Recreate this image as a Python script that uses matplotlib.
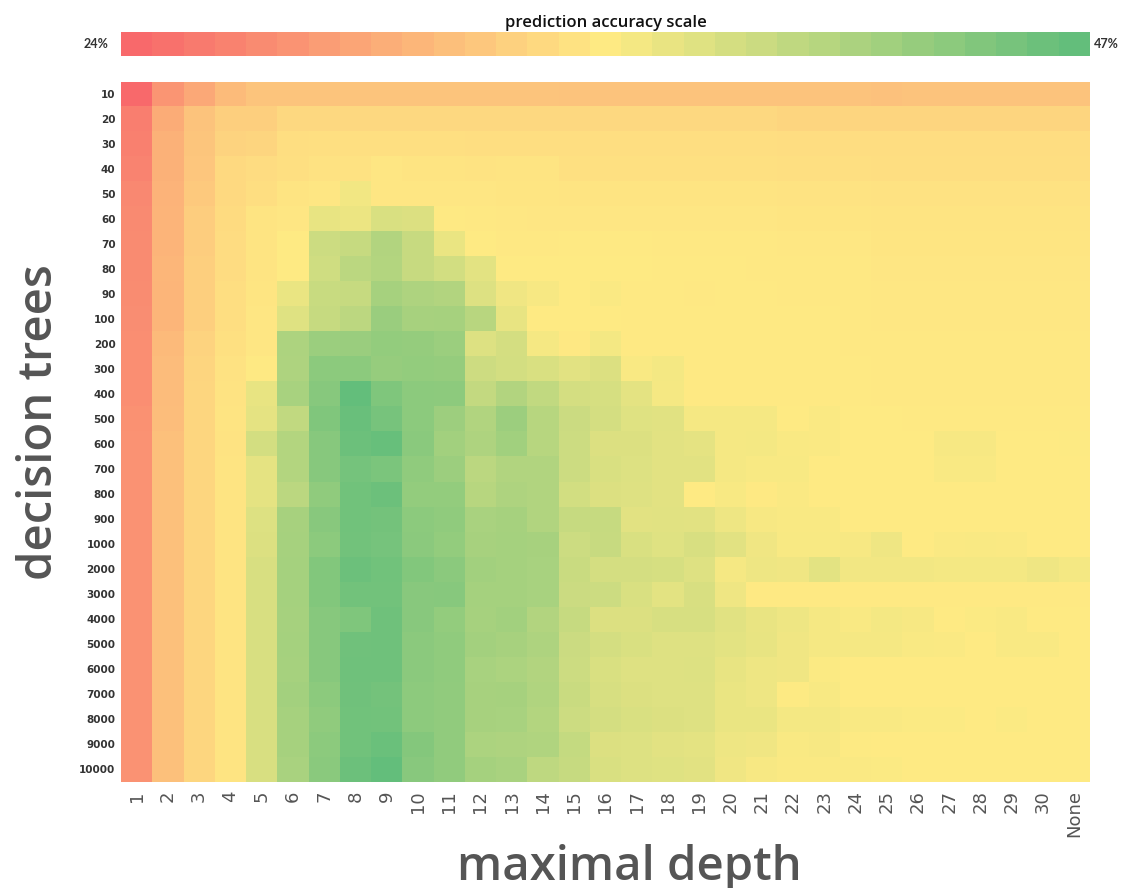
import numpy as np
import matplotlib.pyplot as plt
from matplotlib.colors import LinearSegmentedColormap, Normalize

trees = [10, 20, 30, 40, 50, 60, 70, 80, 90, 100,
         200, 300, 400, 500, 600, 700, 800, 900, 1000,
         2000, 3000, 4000, 5000, 6000, 7000, 8000, 9000, 10000]
depths = [str(d) for d in range(1, 31)] + ["None"]

# accuracy in %, one row per number of trees, one column per max depth (1..30, None)
accuracy = [
    [24.0, 28.0, 29.6, 31.3, 32.1, 32.1, 32.1, 32.1, 32.1, 32.1, 32.1, 32.1, 32.1, 32.1, 32.0, 32.0, 32.0, 32.0, 32.0, 32.0, 32.0, 32.0, 32.0, 32.0, 31.9, 32.0, 32.0, 32.0, 32.0, 32.0, 32.0],
    [25.9, 30.0, 32.0, 33.1, 33.1, 33.8, 33.8, 33.8, 33.8, 33.8, 33.8, 33.8, 33.8, 33.8, 33.8, 33.8, 33.8, 33.8, 33.8, 33.8, 33.8, 33.6, 33.6, 33.6, 33.6, 33.6, 33.6, 33.6, 33.6, 33.6, 33.6],
    [26.1, 30.4, 32.2, 33.4, 33.6, 34.4, 34.5, 34.5, 34.5, 34.5, 34.5, 34.4, 34.4, 34.4, 34.4, 34.4, 34.4, 34.4, 34.4, 34.4, 34.4, 34.3, 34.3, 34.3, 34.3, 34.3, 34.3, 34.3, 34.3, 34.3, 34.3],
    [26.4, 30.4, 32.3, 33.9, 34.2, 34.5, 34.7, 34.7, 35.1, 34.9, 34.9, 34.8, 34.9, 34.9, 34.6, 34.6, 34.6, 34.6, 34.6, 34.6, 34.6, 34.5, 34.5, 34.5, 34.4, 34.4, 34.4, 34.4, 34.4, 34.4, 34.4],
    [26.8, 30.6, 32.6, 33.9, 34.4, 34.9, 35.1, 36.4, 35.1, 35.1, 35.1, 35.1, 35.0, 35.0, 34.9, 34.9, 34.9, 34.9, 34.9, 34.9, 34.9, 34.8, 34.8, 34.8, 34.7, 34.7, 34.7, 34.7, 34.7, 34.7, 34.7],
    [27.0, 30.7, 32.9, 34.1, 34.9, 35.1, 37.2, 36.9, 38.2, 38.1, 35.4, 35.3, 35.2, 35.1, 35.1, 35.1, 35.1, 35.1, 35.1, 35.1, 35.1, 35.0, 35.0, 35.0, 34.9, 34.9, 34.9, 34.9, 34.9, 34.9, 34.9],
    [27.1, 30.7, 32.9, 34.2, 34.9, 35.5, 39.2, 39.7, 41.1, 39.6, 37.0, 35.5, 35.3, 35.3, 35.4, 35.4, 35.4, 35.3, 35.3, 35.3, 35.3, 35.2, 35.2, 35.2, 35.0, 35.0, 35.0, 35.0, 35.0, 35.0, 35.0],
    [27.1, 30.9, 33.1, 34.2, 34.9, 35.5, 39.0, 40.5, 41.0, 39.6, 38.8, 37.5, 35.5, 35.5, 35.5, 35.5, 35.5, 35.4, 35.4, 35.4, 35.3, 35.3, 35.3, 35.3, 35.1, 35.1, 35.1, 35.1, 35.1, 35.1, 35.1],
    [27.2, 30.8, 33.1, 34.4, 35.0, 37.0, 39.5, 39.7, 42.0, 41.4, 41.1, 38.0, 36.5, 36.1, 35.5, 35.8, 35.4, 35.4, 35.3, 35.4, 35.4, 35.3, 35.3, 35.3, 35.2, 35.2, 35.2, 35.2, 35.2, 35.2, 35.2],
    [27.3, 30.8, 33.1, 34.4, 35.1, 37.8, 39.7, 40.4, 42.9, 41.9, 42.0, 40.7, 37.2, 35.5, 35.5, 35.5, 35.4, 35.4, 35.4, 35.4, 35.4, 35.4, 35.4, 35.3, 35.2, 35.2, 35.2, 35.2, 35.2, 35.2, 35.2],
    [27.4, 31.2, 33.4, 34.6, 35.1, 41.5, 42.8, 42.9, 43.4, 43.3, 42.8, 38.0, 38.6, 36.2, 35.3, 36.3, 35.4, 35.4, 35.4, 35.4, 35.4, 35.4, 35.4, 35.3, 35.3, 35.3, 35.3, 35.3, 35.3, 35.3, 35.3],
    [27.4, 31.4, 33.6, 34.7, 35.4, 41.4, 43.9, 43.9, 43.2, 43.4, 43.3, 39.1, 38.7, 38.2, 37.6, 38.1, 35.9, 36.3, 35.4, 35.4, 35.4, 35.4, 35.4, 35.4, 35.3, 35.3, 35.3, 35.3, 35.3, 35.3, 35.3],
    [27.4, 31.4, 33.7, 34.8, 37.2, 41.8, 44.3, 47.0, 44.9, 43.9, 43.8, 39.9, 41.1, 40.0, 38.6, 38.5, 37.4, 36.2, 35.4, 35.4, 35.4, 35.4, 35.4, 35.4, 35.3, 35.3, 35.3, 35.3, 35.3, 35.3, 35.3],
    [27.6, 31.5, 33.7, 34.9, 37.3, 40.0, 44.8, 46.5, 45.4, 43.9, 42.6, 41.2, 42.7, 40.8, 39.3, 38.6, 37.8, 37.7, 36.2, 36.2, 36.2, 35.5, 35.8, 35.5, 35.5, 35.4, 35.4, 35.4, 35.4, 35.4, 35.4],
    [27.7, 31.8, 33.7, 34.8, 38.7, 41.0, 44.3, 46.2, 46.6, 44.1, 42.3, 41.4, 42.4, 40.8, 39.2, 38.1, 38.1, 37.6, 37.3, 36.2, 36.3, 35.9, 35.8, 35.5, 35.5, 35.5, 36.1, 36.1, 35.5, 35.5, 35.6],
    [27.7, 31.8, 33.7, 34.9, 37.3, 41.0, 44.3, 45.6, 45.2, 43.6, 42.7, 40.5, 41.2, 41.2, 39.2, 38.2, 38.0, 37.6, 37.6, 36.2, 36.0, 36.0, 35.5, 35.5, 35.5, 35.5, 35.9, 35.9, 35.5, 35.5, 35.5],
    [27.7, 31.8, 33.7, 34.9, 37.3, 40.5, 43.6, 45.9, 46.2, 43.4, 43.4, 40.8, 41.4, 41.2, 38.8, 38.1, 37.9, 37.6, 35.5, 36.0, 35.4, 35.8, 35.5, 35.5, 35.5, 35.5, 35.5, 35.5, 35.5, 35.5, 35.5],
    [27.7, 31.8, 33.7, 34.9, 38.0, 41.9, 44.2, 45.9, 45.7, 43.9, 43.6, 41.7, 42.0, 41.2, 39.7, 39.7, 37.6, 37.7, 37.6, 36.7, 36.1, 35.9, 35.9, 35.5, 35.5, 35.5, 35.5, 35.5, 35.5, 35.5, 35.5],
    [27.7, 31.8, 33.7, 34.9, 38.1, 42.0, 43.9, 45.8, 45.5, 44.0, 43.4, 41.9, 42.1, 41.9, 39.2, 39.6, 38.2, 37.8, 38.3, 37.6, 36.5, 36.0, 36.0, 36.1, 36.6, 35.5, 35.8, 35.9, 35.8, 35.5, 35.5],
    [27.7, 31.8, 33.7, 34.9, 38.3, 42.1, 44.6, 46.2, 45.9, 44.6, 44.0, 42.3, 42.1, 41.8, 39.4, 38.6, 38.6, 38.5, 37.9, 36.2, 36.7, 36.5, 37.5, 36.4, 36.4, 36.4, 36.3, 36.3, 36.3, 36.6, 36.3],
    [27.7, 31.8, 33.7, 34.9, 38.3, 42.1, 44.6, 45.8, 45.8, 44.2, 44.3, 42.1, 42.1, 41.8, 39.3, 39.2, 38.2, 37.5, 38.3, 36.6, 35.4, 35.4, 35.4, 35.4, 35.4, 35.4, 35.4, 35.4, 35.4, 35.4, 35.4],
    [27.7, 31.8, 33.7, 34.9, 38.3, 42.0, 44.3, 44.9, 46.1, 44.2, 43.4, 42.0, 42.3, 41.1, 39.7, 38.1, 38.1, 38.4, 38.4, 37.7, 37.1, 36.7, 36.2, 35.9, 36.3, 36.1, 35.5, 35.7, 35.9, 35.5, 35.5],
    [27.7, 31.8, 33.7, 34.9, 38.3, 42.1, 44.3, 46.0, 46.1, 44.0, 43.6, 42.2, 41.9, 41.4, 39.3, 38.6, 38.2, 37.9, 37.9, 37.5, 37.2, 36.5, 36.2, 36.2, 36.2, 35.9, 35.8, 35.5, 35.9, 35.9, 35.5],
    [27.7, 31.8, 33.7, 34.9, 38.3, 42.0, 44.3, 46.1, 46.1, 44.0, 43.6, 41.8, 41.6, 41.1, 39.2, 38.2, 37.9, 37.9, 38.0, 37.2, 36.7, 36.5, 35.7, 35.5, 35.5, 35.5, 35.5, 35.5, 35.5, 35.5, 35.5],
    [27.7, 31.8, 33.7, 34.9, 38.3, 42.2, 43.9, 46.0, 45.7, 43.8, 43.5, 41.9, 42.0, 41.3, 39.4, 38.4, 38.1, 37.9, 37.9, 37.0, 36.7, 35.6, 36.0, 35.5, 35.5, 35.5, 35.5, 35.5, 35.5, 35.5, 35.5],
    [27.7, 31.8, 33.7, 34.9, 38.3, 42.0, 43.6, 45.9, 45.8, 43.8, 43.5, 41.9, 41.8, 41.0, 39.2, 38.6, 38.2, 38.1, 37.9, 37.0, 37.0, 36.3, 36.3, 35.9, 35.9, 35.7, 35.7, 35.5, 35.7, 35.5, 35.5],
    [27.7, 31.8, 33.7, 34.9, 38.3, 42.0, 43.9, 45.9, 46.4, 44.5, 43.5, 41.6, 41.4, 41.3, 39.8, 38.1, 38.0, 37.6, 37.4, 36.7, 36.5, 35.9, 36.1, 35.6, 35.5, 35.5, 35.5, 35.5, 35.5, 35.5, 35.5],
    [27.7, 31.8, 33.7, 34.9, 38.3, 41.7, 44.1, 46.2, 47.0, 44.2, 43.5, 42.1, 41.7, 40.2, 39.7, 38.2, 38.0, 37.8, 37.6, 36.5, 36.1, 35.8, 35.8, 35.8, 35.7, 35.5, 35.5, 35.5, 35.5, 35.5, 35.5],
]

scale_min, scale_max = 24, 47

cmap = LinearSegmentedColormap.from_list(
    "ryg", [(0.0, "#F8696B"), (0.5, "#FFEB84"), (1.0, "#63BE7B")])
norm = Normalize(vmin=scale_min, vmax=scale_max)

fig = plt.figure(figsize=(11.21, 8.88), dpi=100)

# main heatmap
ax = fig.add_axes([0.1079, 0.1194, 0.8644, 0.7883])
ax.imshow(np.array(accuracy), cmap=cmap, norm=norm, aspect="auto",
          interpolation="nearest")
ax.set_xticks(range(len(depths)))
ax.set_xticklabels(depths, rotation=90, fontsize=13, color="#555555")
ax.set_yticks(range(len(trees)))
ax.set_yticklabels([str(t) for t in trees], fontsize=7.5, fontweight="bold",
                   color="#333333")
ax.tick_params(length=0, pad=4)
ax.tick_params(axis="x", pad=6)
for s in ax.spines.values():
    s.set_visible(False)
ax.set_xlabel("maximal depth", fontsize=34, family="Open Sans",
              fontweight="semibold", color="#555555")
ax.set_ylabel("decision trees", fontsize=34, family="Open Sans",
              fontweight="semibold", color="#555555")
ax.xaxis.set_label_coords(0.525, -0.089)
ax.yaxis.set_label_coords(-0.060, 0.514)

# stepped colour scale on top, one step per column
cax = fig.add_axes([0.1079, 0.9369, 0.8644, 0.0275])
steps = np.linspace(scale_min, scale_max, len(depths))
cax.imshow(steps[np.newaxis, :], cmap=cmap, norm=norm, aspect="auto",
           interpolation="nearest")
cax.set_xticks([])
cax.set_yticks([])
for s in cax.spines.values():
    s.set_visible(False)
cax.set_title("prediction accuracy scale", fontsize=12, family="Open Sans",
              fontweight="semibold", color="#111111", pad=3)
cax.text(-0.013, 0.5, f"{scale_min}%", transform=cax.transAxes, ha="right",
         va="center", fontsize=9, family="Lato", fontweight="bold",
         color="#333333")
cax.text(1.004, 0.5, f"{scale_max}%", transform=cax.transAxes, ha="left",
         va="center", fontsize=9, family="Lato", fontweight="bold",
         color="#333333")

fig.savefig("out.png", dpi=100)
